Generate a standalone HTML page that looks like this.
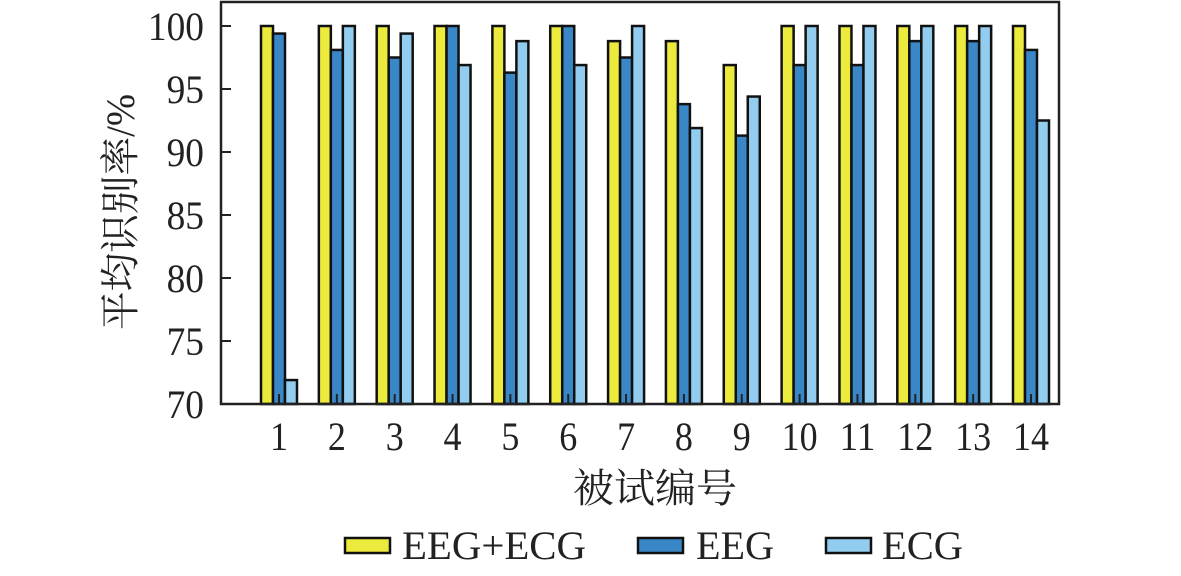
<!DOCTYPE html>
<html><head><meta charset="utf-8"><style>
body{margin:0;background:#fff;}
svg text{font-family:"Liberation Serif","Noto Serif CJK SC",serif;fill:#222;}
</style></head><body>
<svg id="chart" width="1181" height="571" xmlns="http://www.w3.org/2000/svg">
<g id="bars"></g>
<rect x="221" y="2" width="838" height="402" fill="none" stroke="#222" stroke-width="2.5"/>
<g id="axes"></g>
<text x="655" y="502" font-size="40" text-anchor="middle" textLength="164" lengthAdjust="spacingAndGlyphs">被试编号</text>
<text transform="translate(134,212) rotate(-90)" font-size="40" text-anchor="middle" textLength="236" lengthAdjust="spacingAndGlyphs">平均识别率/%</text>
<g>
<g><rect x="345" y="538" width="45" height="15" fill="#ecea3c" stroke="#111" stroke-width="2.5"/><text x="402" y="559" font-size="40" textLength="184" lengthAdjust="spacingAndGlyphs">EEG+ECG</text></g>
<g><rect x="638" y="538" width="45" height="15" fill="#3a87c8" stroke="#111" stroke-width="2.5"/><text x="696" y="559" font-size="40" textLength="78" lengthAdjust="spacingAndGlyphs">EEG</text></g>
<g><rect x="826" y="538" width="45" height="15" fill="#92cdf0" stroke="#111" stroke-width="2.5"/><text x="882" y="559" font-size="40" textLength="81" lengthAdjust="spacingAndGlyphs">ECG</text></g>
</g>
</svg>
<script>
const categories=["1","2","3","4","5","6","7","8","9","10","11","12","13","14"];
const fusion=[100,100,100,100,100,100,98.8,98.8,96.9,100,100,100,100,100];
const eeg=[99.4,98.1,97.5,100,96.3,100,97.5,93.8,91.3,96.9,96.9,98.8,98.8,98.1];
const ecg=[71.9,100,99.4,96.9,98.8,96.9,100,91.9,94.4,100,100,100,100,92.5];
const yTicks=[70,75,80,85,90,95,100];
const NS="http://www.w3.org/2000/svg";
const yScale=v=>404-(v-70)*(404-26)/30;
const xScale=i=>279+i*(1031-279)/13;
const series=[{d:fusion,c:"#ecea3c",n:"eeg-ecg"},{d:eeg,c:"#3a87c8",n:"eeg"},{d:ecg,c:"#92cdf0",n:"ecg"}];
const bars=document.getElementById('bars');
const bw=12;
categories.forEach((cat,i)=>{
  series.forEach((s,k)=>{
    const r=document.createElementNS(NS,'rect');
    const x=xScale(i)+(k-1.5)*bw, y=yScale(s.d[i]);
    r.setAttribute('x',x);r.setAttribute('y',y);r.setAttribute('width',bw);r.setAttribute('height',404-y);
    r.setAttribute('fill',s.c);r.setAttribute('stroke','#111');r.setAttribute('stroke-width','2.5');
    
    
    bars.appendChild(r);
  });
});
const axes=document.getElementById('axes');
yTicks.forEach(t=>{
  const y=yScale(t);
  const l=document.createElementNS(NS,'line');
  l.setAttribute('x1',221);l.setAttribute('x2',231);l.setAttribute('y1',y);l.setAttribute('y2',y);l.setAttribute('stroke','#222');l.setAttribute('stroke-width','2');
  
  
  axes.appendChild(l);
  const tx=document.createElementNS(NS,'text');
  tx.setAttribute('x',204);tx.setAttribute('y',y+14);tx.setAttribute('font-size','40');tx.setAttribute('text-anchor','end');
  tx.setAttribute('textLength',String(t).length*18.7);tx.setAttribute('lengthAdjust','spacingAndGlyphs');
  tx.textContent=t;
  
  
  axes.appendChild(tx);
});
categories.forEach((c,i)=>{
  const x=xScale(i);
  const l=document.createElementNS(NS,'line');
  l.setAttribute('x1',x);l.setAttribute('x2',x);l.setAttribute('y1',404);l.setAttribute('y2',394);l.setAttribute('stroke','#222');l.setAttribute('stroke-width','2');
  
  
  axes.appendChild(l);
  const tx=document.createElementNS(NS,'text');
  tx.setAttribute('x',x);tx.setAttribute('y',450);tx.setAttribute('font-size','40');tx.setAttribute('text-anchor','middle');
  tx.setAttribute('textLength',c.length*18);tx.setAttribute('lengthAdjust','spacingAndGlyphs');
  tx.textContent=c;
  
  
  axes.appendChild(tx);
});
</script>
</body></html>
